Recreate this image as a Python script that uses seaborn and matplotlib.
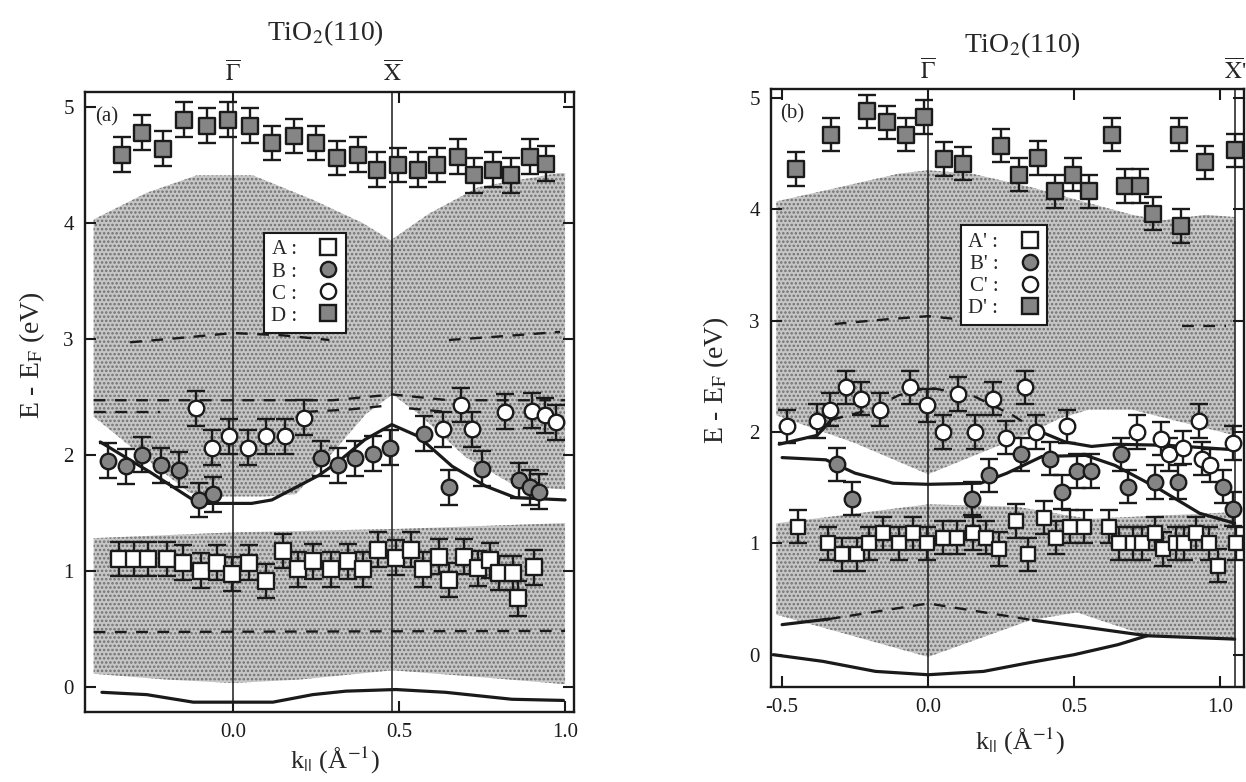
import numpy as np
import seaborn as sns
import matplotlib.pyplot as plt
from matplotlib.lines import Line2D
from matplotlib import transforms

sns.set_theme(style='ticks')
plt.rcParams['font.family'] = ['Liberation Serif', 'DejaVu Serif']
plt.rcParams['mathtext.fontset'] = 'stix'
plt.rcParams['hatch.linewidth'] = 1.2

# ---------------- panel (a) data ----------------
a_D_k = [-0.335, -0.273, -0.210, -0.148, -0.079, -0.016, 0.051, 0.118, 0.185, 0.249, 0.312,
         0.376, 0.433, 0.498, 0.556, 0.613, 0.677, 0.726, 0.782, 0.837, 0.895, 0.943]
a_D_E = [4.59, 4.78, 4.64, 4.89, 4.84, 4.89, 4.84, 4.69, 4.75, 4.69, 4.56,
         4.59, 4.46, 4.50, 4.46, 4.50, 4.57, 4.41, 4.46, 4.41, 4.57, 4.51]

a_A_k = [-0.345, -0.297, -0.255, -0.20, -0.152, -0.096, -0.047, -0.004, 0.049, 0.099, 0.15,
         0.197, 0.242, 0.295, 0.347, 0.39, 0.438, 0.49, 0.536, 0.573, 0.62, 0.649, 0.697,
         0.737, 0.774, 0.80, 0.844, 0.857, 0.905]
a_A_E = [1.10, 1.10, 1.10, 1.10, 1.07, 1.00, 1.07, 0.97, 1.07, 0.91, 1.17,
         1.01, 1.08, 1.01, 1.08, 1.01, 1.18, 1.11, 1.18, 1.01, 1.12, 0.92, 1.12,
         1.02, 1.09, 0.98, 0.98, 0.76, 1.03]

a_B_k = [-0.376, -0.323, -0.275, -0.217, -0.163, -0.104, -0.059, 0.265, 0.317, 0.367, 0.42,
         0.473, 0.576, 0.649, 0.749, 0.86, 0.893, 0.922]
a_B_E = [1.95, 1.90, 2.00, 1.91, 1.87, 1.61, 1.66, 1.97, 1.91, 1.97, 2.01,
         2.06, 2.18, 1.72, 1.88, 1.78, 1.72, 1.68]

a_C_k = [-0.111, -0.064, -0.012, 0.046, 0.10, 0.157, 0.214, 0.633, 0.687, 0.719, 0.82,
         0.90, 0.94, 0.972]
a_C_E = [2.40, 2.06, 2.16, 2.06, 2.16, 2.16, 2.32, 2.22, 2.43, 2.22, 2.37,
         2.38, 2.34, 2.28]

# shaded (projected bulk band) regions, outline = top edge then bottom edge reversed
a_up_k = [-0.42, -0.26, -0.11, 0.06, 0.24, 0.39, 0.475, 0.59, 0.74, 0.98, 1.0,
          1.0, 0.85, 0.7, 0.56, 0.48, 0.4, 0.3, 0.19, 0.1, -0.05, -0.13, -0.3, -0.42]
a_up_E = [4.03, 4.26, 4.41, 4.41, 4.20, 4.00, 3.85, 4.08, 4.31, 4.43, 4.43,
          1.70, 1.73, 1.98, 2.35, 2.52, 2.35, 2.02, 1.66, 1.64, 1.64, 1.67, 2.05, 2.33]
a_lo_k = [-0.42, 0.0, 0.5, 1.0, 1.0, 0.75, 0.48, 0.2, 0.0, -0.2, -0.42]
a_lo_E = [1.28, 1.33, 1.36, 1.41, 0.02, 0.08, 0.14, 0.06, 0.03, 0.06, 0.11]

# calculated bands
a_fit_k = [-0.40, -0.25, -0.104, 0.056, 0.117, 0.197, 0.257, 0.317, 0.397, 0.478, 0.557,
           0.66, 0.76, 0.85, 1.0]
a_fit_E = [2.11, 1.85, 1.58, 1.58, 1.61, 1.73, 1.82, 1.94, 2.13, 2.26, 2.16,
           1.90, 1.73, 1.63, 1.61]
a_bot_k = [-0.395, -0.26, -0.12, 0.0, 0.12, 0.24, 0.34, 0.49, 0.64, 0.84, 0.995]
a_bot_E = [-0.05, -0.07, -0.135, -0.135, -0.135, -0.07, -0.04, -0.026, -0.05, -0.11, -0.12]
a_dash = [
    ([-0.31, -0.15, 0.0, 0.15, 0.29], [2.97, 3.01, 3.05, 3.03, 2.99]),
    ([0.65, 0.8, 0.985], [2.99, 3.02, 3.06]),
    ([-0.42, 0.3, 0.48, 0.65, 1.0], [2.47, 2.47, 2.52, 2.47, 2.47]),
    ([-0.42, -0.22], [2.37, 2.37]),
    ([0.22, 0.35, 0.45], [2.37, 2.39, 2.42]),
    ([0.53, 0.64], [2.40, 2.37]),
    ([-0.42, 1.0], [0.47, 0.48]),
]

# ---------------- panel (b) data ----------------
b_D_k = [-0.453, -0.333, -0.208, -0.142, -0.077, -0.014, 0.054, 0.12, 0.251, 0.311, 0.377,
         0.433, 0.498, 0.552, 0.629, 0.673, 0.726, 0.77, 0.858, 0.866, 0.947, 1.051]
b_D_E = [4.36, 4.67, 4.88, 4.78, 4.67, 4.83, 4.45, 4.41, 4.57, 4.31, 4.46,
         4.16, 4.31, 4.16, 4.67, 4.21, 4.21, 3.96, 4.67, 3.85, 4.42, 4.53]

b_A_k = [-0.446, -0.343, -0.295, -0.244, -0.201, -0.153, -0.098, -0.052, -0.003, 0.05, 0.098,
         0.153, 0.199, 0.244, 0.301, 0.341, 0.398, 0.438, 0.486, 0.535, 0.619, 0.655, 0.701,
         0.732, 0.778, 0.804, 0.849, 0.878, 0.918, 0.963, 0.992, 1.055]
b_A_E = [1.15, 1.0, 0.9, 0.9, 1.0, 1.09, 1.0, 1.09, 1.0, 1.05, 1.05,
         1.09, 1.05, 0.95, 1.2, 0.9, 1.23, 1.05, 1.15, 1.15, 1.15, 1.0, 1.0,
         1.0, 1.09, 0.95, 1.0, 1.0, 1.09, 1.0, 0.8, 1.0]

b_B_k = [-0.313, -0.26, 0.15, 0.207, 0.317, 0.416, 0.46, 0.51, 0.558, 0.66, 0.683,
         0.776, 0.856, 1.009, 1.045]
b_B_E = [1.71, 1.40, 1.40, 1.61, 1.80, 1.76, 1.46, 1.65, 1.65, 1.80, 1.51,
         1.55, 1.55, 1.51, 1.31]

b_C_k = [-0.483, -0.381, -0.337, -0.282, -0.229, -0.166, -0.061, -0.005, 0.051, 0.104, 0.162,
         0.222, 0.266, 0.331, 0.37, 0.475, 0.714, 0.797, 0.826, 0.872, 0.929, 0.937,
         0.967, 1.045]
b_C_E = [2.05, 2.10, 2.20, 2.40, 2.30, 2.20, 2.40, 2.24, 2.0, 2.34, 2.0,
         2.30, 1.95, 2.40, 2.0, 2.05, 2.0, 1.94, 1.80, 1.86, 2.10, 1.76,
         1.70, 1.90]

b_up_k = [-0.52, -0.3, -0.1, 0.0, 0.15, 0.35, 0.53, 0.7, 0.8, 0.95, 1.05,
          1.05, 0.85, 0.7, 0.55, 0.45, 0.33, 0.15, 0.0, -0.25, -0.52]
b_up_E = [4.07, 4.20, 4.32, 4.35, 4.32, 4.20, 4.07, 3.95, 3.90, 3.95, 3.93,
          1.97, 2.10, 2.20, 2.20, 2.12, 1.97, 1.78, 1.62, 1.90, 2.15]
b_lo_k = [-0.52, -0.3, 0.0, 0.3, 0.55, 0.8, 1.05,
          1.05, 0.75, 0.6, 0.51, 0.35, 0.0, -0.52]
b_lo_E = [1.18, 1.25, 1.35, 1.33, 1.22, 1.25, 1.28,
          0.13, 0.17, 0.30, 0.38, 0.31, -0.02, 0.36]

b_solid = [
    ([-0.51, -0.38, -0.33], [1.89, 1.97, 2.11]),
    ([0.36, 0.47, 0.56, 0.64, 0.82, 1.05], [2.03, 1.91, 1.87, 1.89, 1.88, 1.84]),
    ([-0.5, -0.35, -0.25, -0.12, 0.0, 0.18, 0.27, 0.39, 0.54, 0.64, 0.79, 0.93, 1.05],
     [1.77, 1.75, 1.63, 1.54, 1.53, 1.54, 1.63, 1.78, 1.79, 1.70, 1.49, 1.27, 1.18]),
    ([-0.5, -0.34], [0.27, 0.32]),
    ([0.36, 0.53, 0.75, 1.05], [0.31, 0.25, 0.17, 0.14]),
    ([-0.53, -0.36, -0.18, 0.0, 0.19, 0.35, 0.5, 0.65, 0.75],
     [0.0, -0.06, -0.15, -0.18, -0.15, -0.07, 0.0, 0.09, 0.17]),
]
b_dash = [
    ([-0.33, -0.2, -0.1, 0.0, 0.15, 0.29, 0.36], [2.11, 2.20, 2.33, 2.40, 2.33, 2.15, 2.03]),
    ([-0.34, 0.0, 0.36], [0.32, 0.46, 0.31]),
    ([-0.32, -0.15, 0.0, 0.15, 0.3], [2.97, 3.01, 3.04, 3.0, 2.96]),
    ([0.87, 1.02], [2.95, 2.95]),
]

ERR = 0.15
GRAY = '#858585'
SHADE = '#c6c6c6'


def shade(ax, k, E):
    ax.fill(k, E, facecolor=SHADE, edgecolor='#707070', hatch='....', lw=0, zorder=0)


def points(ax, k, E, marker, fill, size):
    ax.errorbar(k, E, yerr=ERR, fmt='none', ecolor='k', elinewidth=1.7,
                capsize=6.5, capthick=1.7, zorder=3)
    sns.scatterplot(x=k, y=E, marker=marker, s=size, color=fill, edgecolor='k',
                    linewidth=1.7, ax=ax, zorder=4)


def line(ax, k, E, dashed=False):
    sns.lineplot(x=k, y=E, sort=False, estimator=None, color='k',
                 lw=1.7 if dashed else 2.3, ax=ax, zorder=2,
                 linestyle=(0, (5, 4)) if dashed else '-')


def frame(ax, xlim, ylim, xticks):
    ax.set_xlim(*xlim)
    ax.set_ylim(*ylim)
    ax.set_xticks(xticks)
    ax.set_xticklabels([f'{t:.1f}' for t in xticks])
    ax.set_yticks([0, 1, 2, 3, 4, 5])
    ax.tick_params(direction='in', length=8, width=1.5, top=True, right=True,
                   labelsize=15, pad=8, colors='k')
    for s in ax.spines.values():
        s.set_linewidth(1.7)
        s.set_color('k')
    ax.set_xlabel('')
    ax.set_ylabel('')


def legend(ax, names, anchor):
    specs = [('s', 'white'), ('o', GRAY), ('o', 'white'), ('s', GRAY)]
    hs = [Line2D([], [], ls='none', marker=m, markersize=11, mfc=c, mec='k', mew=1.7)
          for m, c in specs]
    lg = ax.legend(hs, names, loc='upper left', bbox_to_anchor=anchor, markerfirst=False,
                   fontsize=15, frameon=True, fancybox=False, framealpha=1, edgecolor='k',
                   labelspacing=0.12, handletextpad=1.0, handlelength=1.0, borderpad=0.35)
    lg.get_frame().set_linewidth(1.5)
    lg.set_zorder(6)


fig = plt.figure(figsize=(12.46, 7.82), dpi=100)

# ---------------- panel (a) ----------------
ax = fig.add_axes([0.0682, 0.0895, 0.3925, 0.7929])
shade(ax, a_up_k, a_up_E)
shade(ax, a_lo_k, a_lo_E)
for xv in (0.0, 0.48):
    ax.axvline(xv, color='k', lw=1.1, zorder=1.5)
line(ax, a_fit_k, a_fit_E)
line(ax, a_bot_k, a_bot_E)
for k, E in a_dash:
    line(ax, k, E, dashed=True)
points(ax, a_A_k, a_A_E, 's', 'white', 140)
points(ax, a_B_k, a_B_E, 'o', GRAY, 125)
points(ax, a_C_k, a_C_E, 'o', 'white', 125)
points(ax, a_D_k, a_D_E, 's', GRAY, 140)
frame(ax, (-0.446, 1.027), (-0.22, 5.13), [0.0, 0.5, 1.0])
legend(ax, ['A :', 'B :', 'C :', 'D :'], (0.344, 0.79))
ax.text(0.02, 0.975, '(a)', transform=ax.transAxes, fontsize=15, va='top', zorder=7)
tr = transforms.blended_transform_factory(ax.transData, ax.transAxes)
ax.text(0.0, 1.03, r'$\overline{\Gamma}$', transform=tr, ha='center', va='center', fontsize=17)
ax.text(0.48, 1.03, r'$\overline{\mathrm{X}}$', transform=tr, ha='center', va='center', fontsize=17)

# ---------------- panel (b) ----------------
bx = fig.add_axes([0.6188, 0.1215, 0.3796, 0.7647])
shade(bx, b_up_k, b_up_E)
shade(bx, b_lo_k, b_lo_E)
for xv in (0.0, 1.05):
    bx.axvline(xv, color='k', lw=1.1, zorder=1.5)
for k, E in b_solid:
    line(bx, k, E)
for k, E in b_dash:
    line(bx, k, E, dashed=True)
points(bx, b_A_k, b_A_E, 's', 'white', 115)
points(bx, b_B_k, b_B_E, 'o', GRAY, 125)
points(bx, b_C_k, b_C_E, 'o', 'white', 125)
points(bx, b_D_k, b_D_E, 's', GRAY, 125)
frame(bx, (-0.538, 1.082), (-0.29, 5.08), [-0.5, 0.0, 0.5, 1.0])
legend(bx, ["A' :", "B' :", "C' :", "D' :"], (0.38, 0.79))
bx.text(0.02, 0.975, '(b)', transform=bx.transAxes, fontsize=15, va='top', zorder=7)
tr = transforms.blended_transform_factory(bx.transData, bx.transAxes)
bx.text(0.0, 1.028, r'$\overline{\Gamma}$', transform=tr, ha='center', va='center', fontsize=17)
bx.text(1.05, 1.028, r"$\overline{\mathrm{X}}$'", transform=tr, ha='center', va='center', fontsize=17)

# ---------------- titles and axis labels ----------------
fig.text(325 / 1246, 1 - 33 / 782, r'TiO$_2$(110)', ha='center', va='center', fontsize=20)
fig.text(1022 / 1246, 1 - 45 / 782, r'TiO$_2$(110)', ha='center', va='center', fontsize=20)
fig.text(32 / 1246, 1 - 355 / 782, r'E - E$_\mathrm{F}$ (eV)', rotation=90,
         ha='center', va='center', fontsize=20)
fig.text(716 / 1246, 1 - 380 / 782, r'E - E$_\mathrm{F}$ (eV)', rotation=90,
         ha='center', va='center', fontsize=20)
fig.text(335 / 1246, 1 - 760 / 782, r'k$_{||}$ (Å$^{-1}$)', ha='center', va='center', fontsize=19)
fig.text(1020 / 1246, 1 - 741 / 782, r'k$_{||}$ (Å$^{-1}$)', ha='center', va='center', fontsize=19)

fig.savefig('out.png', dpi=100, facecolor='white')
